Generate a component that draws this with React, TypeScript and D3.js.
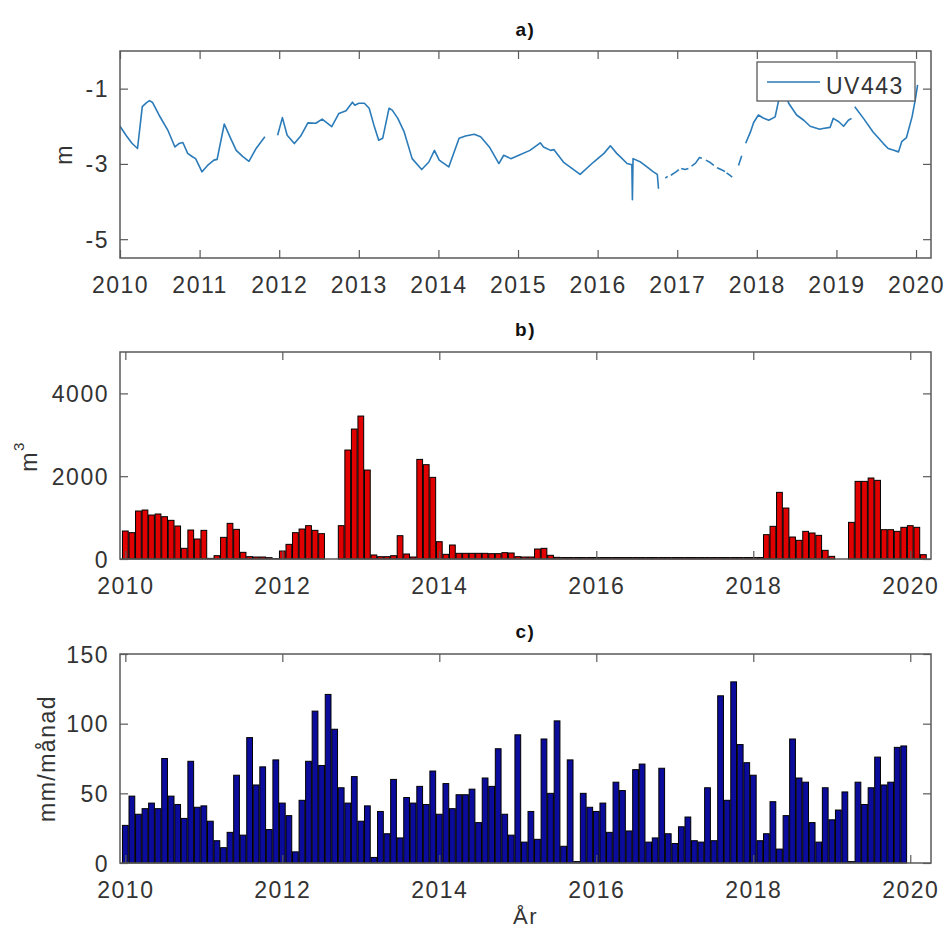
import React, { useEffect, useRef } from "react";
import * as d3 from "d3";

const W = 944;
const H = 931;

// Groundwater level at UV443 (m), decimal years. A null pair breaks the line.
const levelYears: (number | null)[] = [
  2010.0, 2010.08, 2010.15, 2010.22, 2010.28, 2010.33, 2010.37, 2010.41, 2010.49, 2010.6,
  2010.69, 2010.74, 2010.79, 2010.85, 2010.91, 2010.95, 2011.03, 2011.1, 2011.18, 2011.22,
  2011.31, 2011.39, 2011.46, 2011.54, 2011.62, 2011.71, 2011.82, null,
  2011.98, 2012.04, 2012.1, 2012.19, 2012.27, 2012.36, 2012.46, 2012.54, 2012.66, 2012.75,
  2012.84, 2012.92, 2012.95, 2013.0, 2013.07, 2013.13, 2013.19, 2013.25, 2013.3, 2013.38,
  2013.42, 2013.49, 2013.57, 2013.67, 2013.79, 2013.88, 2013.95, 2014.01, 2014.13, 2014.26,
  2014.34, 2014.45, 2014.53, 2014.64, 2014.76, 2014.82, 2014.91, 2015.01, 2015.15, 2015.28,
  2015.32, 2015.41, 2015.45, 2015.57, 2015.78, 2015.95, 2016.08, 2016.16, 2016.24, 2016.28,
  2016.37, 2016.43, 2016.437, 2016.445, 2016.54, 2016.62, 2016.7, 2016.75, 2016.765, null,
  2016.85, 2016.88, null,
  2016.92, 2016.98, 2017.02, null,
  2017.05, 2017.1, 2017.14, null,
  2017.18, 2017.23, 2017.28, 2017.31, null,
  2017.36, 2017.42, 2017.46, null,
  2017.5, 2017.55, 2017.6, null,
  2017.62, 2017.66, 2017.69, null,
  2017.77, 2017.81, null,
  2017.86, 2017.92, 2017.96, 2018.02, 2018.08, 2018.15, 2018.23, 2018.27, 2018.31, 2018.36,
  2018.4, 2018.5, 2018.59, 2018.67, 2018.79, 2018.83, 2018.92, 2018.96, 2019.03, 2019.09,
  2019.15, 2019.19, null,
  2019.23, 2019.34, 2019.46, 2019.59, 2019.65, 2019.72, 2019.78, 2019.82, 2019.88, 2019.95,
  2019.99, 2020.02,
];
const levelValues: (number | null)[] = [
  -2.0, -2.25, -2.45, -2.59, -1.48, -1.38, -1.32, -1.37, -1.7, -2.1,
  -2.55, -2.46, -2.43, -2.72, -2.81, -2.86, -3.21, -3.04, -2.9, -2.88,
  -1.94, -2.32, -2.64, -2.8, -2.93, -2.59, -2.28, null,
  -2.24, -1.77, -2.24, -2.46, -2.26, -1.91, -1.92, -1.81, -2.01, -1.66,
  -1.59, -1.36, -1.44, -1.39, -1.39, -1.52, -1.97, -2.37, -2.32, -1.52,
  -1.57, -1.79, -2.15, -2.86, -3.15, -2.95, -2.64, -2.9, -3.08, -2.32,
  -2.26, -2.21, -2.28, -2.55, -2.99, -2.77, -2.86, -2.77, -2.64, -2.44,
  -2.55, -2.64, -2.62, -2.95, -3.28, -2.95, -2.72, -2.52, -2.72, -2.8,
  -2.99, -3.02, -3.95, -2.86, -2.95, -3.08, -3.21, -3.28, -3.66, null,
  -3.38, -3.33, null,
  -3.3, -3.22, -3.15, null,
  -3.12, -3.15, -3.12, null,
  -3.06, -2.98, -2.83, -2.85, null,
  -2.9, -2.97, -3.04, null,
  -3.1, -3.15, -3.2, null,
  -3.24, -3.3, -3.35, null,
  -3.04, -2.78, null,
  -2.45, -2.15, -1.9, -1.7, -1.78, -1.84, -1.75, -1.35, -1.1, -1.15,
  -1.39, -1.7, -1.84, -2.0, -2.08, -2.06, -2.03, -1.79, -1.88, -2.0,
  -1.84, -1.79, null,
  -1.48, -1.79, -2.15, -2.46, -2.59, -2.64, -2.68, -2.41, -2.3, -1.75,
  -1.3, -0.9,
];

// Monthly volume (m³), one value per month from January 2010 to March 2020
const volumeValues: number[] = [
  676, 636, 1159, 1183, 1062, 1087, 1022, 934, 797, 258, 700, 483, 692,
  15, 80, 523, 861, 716, 161, 56, 48, 48, 32, 8,
  193, 354, 636, 724, 805, 692, 612, 0, 0, 805, 2632, 3139,
  3453, 2149, 97, 56, 56, 80, 563, 121, 48, 2406, 2278, 1972,
  418, 113, 338, 137, 137, 137, 137, 137, 129, 129, 153, 145,
  56, 48, 48, 241, 258, 89, 40, 35, 35, 35, 35, 35,
  35, 35, 35, 35, 35, 35, 35, 35, 35, 35, 35, 35,
  35, 35, 35, 35, 35, 35, 35, 35, 35, 35, 35, 35,
  35, 35, 588, 789, 1610, 1231, 531, 451, 668, 628, 571, 209,
  64, 0, 0, 885, 1875, 1875, 1956, 1900, 708, 708, 668, 765,
  805, 765, 105,
];

// Monthly precipitation (mm/månad), January 2010 to December 2019
const precipValues: number[] = [
  27, 48, 35, 39, 43, 39, 75, 48, 42, 32, 73, 40,
  41, 30, 16, 11, 22, 63, 20, 90, 56, 69, 24, 74,
  43, 34, 8, 45, 73, 109, 70, 121, 96, 54, 43, 62,
  30, 41, 4, 37, 21, 60, 18, 47, 43, 55, 42, 66,
  35, 57, 39, 49, 49, 53, 29, 61, 55, 82, 35, 20,
  92, 15, 37, 17, 89, 50, 102, 12, 74, 1, 50, 40,
  37, 43, 22, 58, 52, 23, 67, 71, 15, 18, 68, 21,
  14, 26, 33, 16, 15, 54, 16, 120, 45, 130, 85, 72,
  63, 16, 21, 44, 10, 34, 89, 61, 58, 29, 15, 54,
  31, 38, 51, 1, 58, 42, 54, 76, 56, 58, 83, 84,
];

const firstMonthYear = 2010;

const yearTicksA = [2010, 2011, 2012, 2013, 2014, 2015, 2016, 2017, 2018, 2019, 2020];
const yearTicksBC = [2010, 2012, 2014, 2016, 2018, 2020];
const levelTicks = [-1, -3, -5];
const volumeTicks = [0, 2000, 4000];
const precipTicks = [0, 50, 100, 150];

const FONT = "'Liberation Sans', Arial, Helvetica, sans-serif";
const AXIS = "#5a5a5a";
const TEXT = "#333";
const TICK = 8;
const LEFT = 120;
const RIGHT = 931;
const LINE_BLUE = "#2b7bb9";
const BAR_RED = "#e00000";
const BAR_BLUE = "#0b0b9c";

type Sel = d3.Selection<SVGGElement, unknown, null, undefined>;

function drawFrame(
  g: Sel,
  x: d3.ScaleLinear<number, number>,
  y: d3.ScaleLinear<number, number>,
  top: number,
  bottom: number,
  xTicks: number[],
  yTicks: number[]
) {
  const style = (s: any) => {
    s.select(".domain").remove();
    s.selectAll("line").attr("stroke", AXIS).attr("stroke-width", 1.2);
    s.selectAll("text")
      .attr("fill", TEXT)
      .attr("font-size", 23)
      .attr("font-family", FONT)
      .attr("letter-spacing", 1.5);
  };
  const fmt = (d: any) => String(d);

  g.append("g")
    .attr("transform", `translate(0,${bottom})`)
    .call(d3.axisBottom(x).tickValues(xTicks).tickSizeInner(-TICK).tickSizeOuter(0).tickFormat(fmt))
    .call(style)
    .call((s: any) => s.selectAll("text").attr("y", 35).attr("dy", null));

  g.append("g")
    .attr("transform", `translate(0,${top})`)
    .call(d3.axisTop(x).tickValues(xTicks).tickSizeInner(-TICK).tickSizeOuter(0).tickFormat(() => ""))
    .call(style);

  g.append("g")
    .attr("transform", `translate(${LEFT},0)`)
    .call(d3.axisLeft(y).tickValues(yTicks).tickSizeInner(-TICK).tickSizeOuter(0).tickFormat(fmt))
    .call(style)
    .call((s: any) => s.selectAll("text").attr("x", -11).attr("dy", "0.35em"));

  g.append("g")
    .attr("transform", `translate(${RIGHT},0)`)
    .call(d3.axisRight(y).tickValues(yTicks).tickSizeInner(-TICK).tickSizeOuter(0).tickFormat(() => ""))
    .call(style);

  g.append("rect")
    .attr("x", LEFT)
    .attr("y", top)
    .attr("width", RIGHT - LEFT)
    .attr("height", bottom - top)
    .attr("fill", "none")
    .attr("stroke", AXIS)
    .attr("stroke-width", 1.5);
}

function title(g: Sel, text: string, yPos: number) {
  g.append("text")
    .attr("x", (LEFT + RIGHT) / 2)
    .attr("y", yPos)
    .attr("text-anchor", "middle")
    .attr("font-family", FONT)
    .attr("font-weight", "bold")
    .attr("font-size", 19)
    .attr("letter-spacing", 1.5)
    .attr("fill", "#111")
    .text(text);
}

function yLabel(g: Sel, xPos: number, yPos: number) {
  return g
    .append("text")
    .attr("transform", `translate(${xPos},${yPos}) rotate(-90)`)
    .attr("text-anchor", "middle")
    .attr("font-family", FONT)
    .attr("font-size", 23)
    .attr("letter-spacing", 1.5)
    .attr("fill", TEXT);
}

function monthBars(
  g: Sel,
  values: number[],
  x: d3.ScaleLinear<number, number>,
  y: d3.ScaleLinear<number, number>,
  fill: string
) {
  const monthW = x(firstMonthYear + 1 / 12) - x(firstMonthYear);
  const bw = monthW * 0.88;
  const data = values.map((v, i) => ({ v, i })).filter((d) => d.v > 0);
  g.append("g")
    .selectAll("rect")
    .data(data)
    .join("rect")
    .attr("x", (d) => x(firstMonthYear + d.i / 12) - bw / 2)
    .attr("y", (d) => y(d.v))
    .attr("width", bw)
    .attr("height", (d) => y(0) - y(d.v))
    .attr("fill", fill)
    .attr("stroke", "#000")
    .attr("stroke-width", 1);
}

export default function App() {
  const ref = useRef<SVGSVGElement>(null);

  useEffect(() => {
    const root = d3.select(ref.current);
    root.selectAll("*").remove();
    const svg = root.append("g") as unknown as Sel;

    // a) groundwater level
    const aTop = 51;
    const aBottom = 258;
    const xa = d3.scaleLinear().domain([2010, 2020.188]).range([LEFT, RIGHT]);
    const ya = d3.scaleLinear().domain([-5.5, 0]).range([aBottom, aTop]);
    const pts = levelYears.map((yr, i) => ({ yr, v: levelValues[i] }));
    const line = d3
      .line<{ yr: number | null; v: number | null }>()
      .defined((d) => d.yr !== null && d.v !== null)
      .x((d) => xa(d.yr as number))
      .y((d) => ya(d.v as number));
    const clipA = svg.append("clipPath").attr("id", "clip-a");
    clipA.append("rect").attr("x", LEFT).attr("y", aTop).attr("width", RIGHT - LEFT).attr("height", aBottom - aTop);
    svg
      .append("path")
      .datum(pts)
      .attr("clip-path", "url(#clip-a)")
      .attr("d", line)
      .attr("fill", "none")
      .attr("stroke", LINE_BLUE)
      .attr("stroke-width", 1.6)
      .attr("stroke-linejoin", "round");
    drawFrame(svg, xa, ya, aTop, aBottom, yearTicksA, levelTicks);
    title(svg, "a)", 36);
    yLabel(svg, 72, (aTop + aBottom) / 2).text("m");

    // legend
    const lg = svg.append("g");
    lg.append("rect")
      .attr("x", 757)
      .attr("y", 62)
      .attr("width", 158)
      .attr("height", 39)
      .attr("fill", "#fff")
      .attr("stroke", AXIS)
      .attr("stroke-width", 1.3);
    lg.append("line")
      .attr("x1", 767)
      .attr("x2", 820)
      .attr("y1", 82)
      .attr("y2", 82)
      .attr("stroke", LINE_BLUE)
      .attr("stroke-width", 1.6);
    lg.append("text")
      .attr("x", 826)
      .attr("y", 94)
      .attr("font-family", FONT)
      .attr("font-size", 23)
      .attr("letter-spacing", 1.5)
      .attr("fill", TEXT)
      .text("UV443");

    // b) monthly volume
    const bTop = 352;
    const bBottom = 559;
    const xbc = d3.scaleLinear().domain([2009.932, 2020.264]).range([LEFT, RIGHT]);
    const yb = d3.scaleLinear().domain([0, 5000]).range([bBottom, bTop]);
    monthBars(svg, volumeValues, xbc, yb, BAR_RED);
    drawFrame(svg, xbc, yb, bTop, bBottom, yearTicksBC, volumeTicks);
    title(svg, "b)", 336);
    const mLabel = yLabel(svg, 37, (bTop + bBottom) / 2 + 1);
    mLabel.append("tspan").text("m");
    mLabel.append("tspan").attr("dy", -13).attr("font-size", 15).text("3");

    // c) monthly precipitation
    const cTop = 654;
    const cBottom = 863;
    const yc = d3.scaleLinear().domain([0, 150]).range([cBottom, cTop]);
    monthBars(svg, precipValues, xbc, yc, BAR_BLUE);
    drawFrame(svg, xbc, yc, cTop, cBottom, yearTicksBC, precipTicks);
    title(svg, "c)", 638);
    yLabel(svg, 55, (cTop + cBottom) / 2).text("mm/månad");

    svg
      .append("text")
      .attr("x", (LEFT + RIGHT) / 2)
      .attr("y", 924)
      .attr("text-anchor", "middle")
      .attr("font-family", FONT)
      .attr("font-size", 22)
      .attr("letter-spacing", 1.5)
      .attr("fill", TEXT)
      .text("År");
  }, []);

  return (
    <svg
      ref={ref}
      width={W}
      height={H}
      style={{ position: "absolute", left: 0, top: 0, background: "#fff" }}
    />
  );
}
